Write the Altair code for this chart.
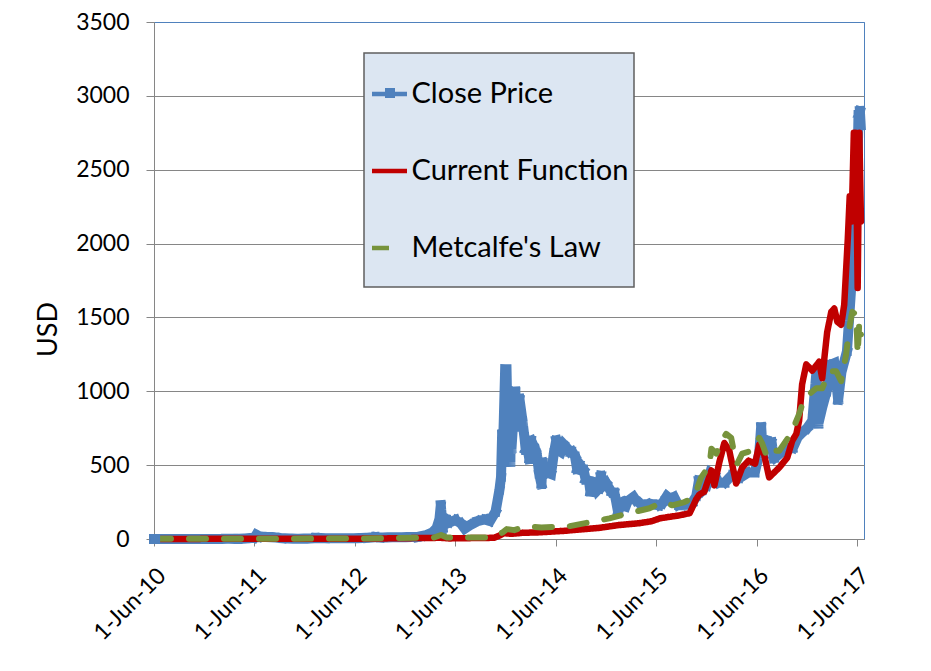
import altair as alt
import pandas as pd

# ---------------- data ----------------
series_names = ["Close Price", "Current Function", "Metcalfe's Law"]
series_colors = ["#4F81BD", "#C00000", "#77933C"]

close_dates = [
    "2010-06-01", "2010-10-01", "2011-01-01", "2011-02-15", "2011-04-01", "2011-05-01",
    "2011-05-20", "2011-06-01", "2011-06-08", "2011-06-20", "2011-07-15", "2011-08-15",
    "2011-09-10", "2011-10-20", "2011-11-18", "2011-12-20", "2012-01-10", "2012-02-15",
    "2012-04-01", "2012-06-01", "2012-07-15", "2012-08-15", "2012-09-01", "2012-10-15",
    "2012-12-01", "2013-01-15", "2013-02-15", "2013-03-10", "2013-03-25", "2013-04-04",
    "2013-04-09", "2013-04-16", "2013-04-25", "2013-05-15", "2013-06-01", "2013-06-20",
    "2013-07-05", "2013-07-25", "2013-08-20", "2013-09-15", "2013-10-05", "2013-10-25",
    "2013-11-08", "2013-11-14", "2013-11-18", "2013-11-20", "2013-11-24", "2013-11-29",
    "2013-12-04", "2013-12-07", "2013-12-10", "2013-12-15", "2013-12-18", "2013-12-19",
    "2013-12-22", "2013-12-27", "2014-01-01", "2014-01-05", "2014-01-10", "2014-01-20",
    "2014-01-31", "2014-02-07", "2014-02-12", "2014-02-18", "2014-02-25", "2014-03-03",
    "2014-03-10", "2014-03-18", "2014-03-25", "2014-04-02", "2014-04-10", "2014-04-14",
    "2014-04-23", "2014-05-01", "2014-05-15", "2014-05-25", "2014-06-03", "2014-06-12",
    "2014-06-20", "2014-06-30", "2014-07-10", "2014-07-22", "2014-07-31", "2014-08-10",
    "2014-08-18", "2014-08-25", "2014-09-05", "2014-09-10", "2014-09-18", "2014-09-30",
    "2014-10-05", "2014-10-10", "2014-10-20", "2014-10-30", "2014-11-04", "2014-11-12",
    "2014-11-20", "2014-12-01", "2014-12-10", "2014-12-20", "2014-12-31", "2015-01-05",
    "2015-01-14", "2015-01-25", "2015-02-01", "2015-02-10", "2015-02-17", "2015-03-11",
    "2015-03-20", "2015-04-01", "2015-04-14", "2015-05-01", "2015-05-20", "2015-06-10",
    "2015-06-25", "2015-07-10", "2015-07-20", "2015-08-05", "2015-08-20", "2015-09-05",
    "2015-09-20", "2015-10-10", "2015-10-25", "2015-11-04", "2015-11-12", "2015-12-01",
    "2015-12-15", "2016-01-01", "2016-01-15", "2016-02-05", "2016-03-01", "2016-04-01",
    "2016-05-01", "2016-05-25", "2016-06-10", "2016-06-17", "2016-06-23", "2016-07-05",
    "2016-07-25", "2016-08-02", "2016-08-25", "2016-09-20", "2016-10-10", "2016-10-28",
    "2016-11-10", "2016-12-01", "2016-12-20", "2017-01-04", "2017-01-11", "2017-01-25",
    "2017-02-10", "2017-02-25", "2017-03-10", "2017-03-18", "2017-03-24", "2017-04-05",
    "2017-04-25", "2017-05-05", "2017-05-12", "2017-05-20", "2017-05-25", "2017-05-27",
    "2017-06-01", "2017-06-06", "2017-06-11", "2017-06-14",
]
close_values = [
    0.1, 0.1, 0.3, 1, 0.8, 3.5,
    7, 9.6, 29, 17, 14, 11,
    5, 2.5, 2.2, 3.5, 7, 5,
    4.9, 5.3, 8, 13, 10, 11.8,
    12.6, 14, 26, 45, 75, 135,
    230, 70, 140, 115, 128, 108,
    70, 95, 120, 132, 122, 185,
    330, 420, 710, 560, 800, 1150,
    1150, 860, 1000, 870, 520, 700,
    610, 760, 760, 1000, 830, 950,
    800, 690, 600, 620, 540, 670,
    640, 610, 560, 440, 370, 520,
    440, 450, 440, 580, 670, 600,
    590, 640, 620, 590, 590, 560,
    470, 510, 480, 470, 400, 390,
    320, 390, 385, 330, 340, 430,
    360, 380, 350, 320, 315, 270,
    180, 250, 225, 220, 255, 285,
    260, 245, 220, 235, 235, 228,
    245, 290, 275, 285, 230, 230,
    232, 245, 290, 400, 320, 360,
    450, 430, 380, 380, 430, 415,
    450, 450, 580, 760, 580, 670,
    655, 545, 580, 610, 615, 690,
    715, 750, 800, 1130, 780, 890,
    1000, 1180, 1190, 1050, 940, 1130,
    1270, 1550, 1750, 2050, 2450, 2050,
    2400, 2870, 2900, 2800,
]

cf_dates = [
    "2010-06-01", "2012-06-01", "2013-04-10", "2013-05-10", "2013-10-20", "2013-11-10",
    "2013-11-25", "2013-12-20", "2014-02-01", "2014-04-01", "2014-07-01", "2014-09-01",
    "2014-11-05", "2015-01-15", "2015-04-01", "2015-05-15", "2015-06-15", "2015-07-20",
    "2015-08-25", "2015-10-01", "2015-10-15", "2015-10-25", "2015-11-05", "2015-11-23",
    "2015-12-19", "2015-12-30", "2016-01-17", "2016-02-04", "2016-02-22", "2016-03-18",
    "2016-04-09", "2016-05-02", "2016-05-26", "2016-06-10", "2016-06-28", "2016-07-16",
    "2016-08-22", "2016-09-20", "2016-10-08", "2016-10-23", "2016-11-02", "2016-11-13",
    "2016-11-28", "2016-12-20", "2017-01-14", "2017-01-25", "2017-02-12", "2017-02-27",
    "2017-03-10", "2017-03-21", "2017-04-04", "2017-04-15", "2017-04-28", "2017-05-05",
    "2017-05-12", "2017-05-20", "2017-05-27", "2017-06-03", "2017-06-09", "2017-06-15",
]
cf_values = [
    0.5, 2, 8, 4, 8, 25,
    40, 35, 42, 45, 55, 65,
    75, 94, 107, 120, 140, 150,
    160, 175, 230, 270, 300, 320,
    464, 363, 520, 650, 600, 376,
    484, 530, 510, 640, 570, 417,
    484, 551, 665, 712, 800, 1048,
    1182, 1140, 1200, 1088, 1400, 1538,
    1560, 1471, 1450, 1585, 2030, 2320,
    2150, 2750, 2750, 1700, 2750, 2150,
]

ml_dates = [
    "2010-06-01", "2012-06-01", "2013-03-15", "2013-04-10", "2013-05-01", "2013-10-15",
    "2013-11-20", "2013-12-05", "2014-01-01", "2014-02-15", "2014-04-10", "2014-07-21",
    "2014-10-02", "2014-12-13", "2015-02-24", "2015-05-08", "2015-06-24", "2015-07-30",
    "2015-09-12", "2015-10-18", "2015-11-05", "2015-11-12", "2015-12-12", "2015-12-19",
    "2016-01-06", "2016-01-24", "2016-02-11", "2016-02-29", "2016-03-11", "2016-03-22",
    "2016-04-09", "2016-05-15", "2016-06-10", "2016-06-21", "2016-07-09", "2016-07-27",
    "2016-08-22", "2016-09-16", "2016-10-08", "2016-11-02", "2016-11-21", "2016-12-09",
    "2017-01-03", "2017-01-25", "2017-02-19", "2017-03-17", "2017-04-04", "2017-04-22",
    "2017-05-03", "2017-05-14", "2017-05-29", "2017-06-03", "2017-06-09", "2017-06-15",
]
ml_values = [
    1, 3, 10, 27, 10, 10,
    45, 67, 60, 87, 78, 87,
    113, 140, 175, 208, 250, 228,
    250, 282, 383, 417, 497, 611,
    578, 665, 712, 685, 578, 510,
    578, 598, 685, 645, 551, 598,
    598, 665, 732, 845, 955, 980,
    1020, 1020, 1135, 1135, 1068, 1250,
    1424, 1538, 1518, 1250, 1471, 1384,
]

y_ticks = [0, 500, 1000, 1500, 2000, 2500, 3000, 3500]
x_tick_years = [2010, 2011, 2012, 2013, 2014, 2015, 2016, 2017]

# ---------------- build table ----------------
frames = []
for name, d, v in zip(series_names, [close_dates, cf_dates, ml_dates],
                      [close_values, cf_values, ml_values]):
    frames.append(pd.DataFrame({"date": d, "value": v, "series": name}))
df = pd.concat(frames, ignore_index=True)

FONT = "Lato"
GRAY = "#868686"
PLOT_TOP = 14  # padding above the plot area

x_enc = alt.X(
    "date:T",
    scale=alt.Scale(
        type="utc",
        domain=[alt.DateTime(year=2010, month=6, date=1, utc=True),
                alt.DateTime(year=2017, month=6, date=26, utc=True)],
    ),
    axis=alt.Axis(
        values=[alt.DateTime(year=yr, month=6, date=1, utc=True) for yr in x_tick_years],
        labelExpr="utcFormat(datum.value, '%-d-%b-%y')",
        labelAngle=315, labelAlign="right", labelBaseline="top",
        labelPadding=18, labelFont=FONT, labelFontSize=23, labelColor="black",
        tickSize=7, tickColor=GRAY, domainColor=GRAY, grid=False,
        labelOverlap=False,
    ),
    title=None,
)
y_enc = alt.Y(
    "value:Q",
    scale=alt.Scale(domain=[0, 3500], nice=False),
    axis=alt.Axis(
        values=y_ticks, grid=True, format="d",
        gridColor={"condition": {"test": "datum.value === 3500", "value": "#4F81BD"},
                   "value": GRAY},
        gridWidth=1, tickSize=8, tickColor=GRAY, domainColor=GRAY,
        labelFont=FONT, labelFontSize=23, labelColor="black", labelPadding=17,
        title="USD", titleFont=FONT, titleFontSize=27, titleFontWeight="normal",
        titleColor="black", titleAngle=270, titleX=-106, titleY=307,
        titleAlign="center", titleBaseline="middle",
    ),
)

legend = alt.Legend(
    orient="none", legendX=215.5, legendY=52, title=None,
    symbolType="stroke", symbolSize=1225, symbolStrokeWidth=4.5,
    labelFont=FONT, labelFontSize=29, labelColor="black", labelOffset=2,
    rowPadding=42, padding=0, labelLimit=400,
)
color_enc = alt.Color("series:N", scale=alt.Scale(domain=series_names, range=series_colors),
                      legend=legend)
dash_enc = alt.StrokeDash("series:N",
                          scale=alt.Scale(domain=series_names, range=[[1, 0], [1, 0], [17, 18]]),
                          legend=legend)

base = alt.Chart(df)

box = alt.Chart(pd.DataFrame({"a": [0]})).mark_rect(
    fill="#DCE6F2", stroke="#5F5F5F", strokeWidth=1.5
).encode(x=alt.value(210), x2=alt.value(480), y=alt.value(31), y2=alt.value(265))

close_line = base.transform_filter(alt.datum.series == series_names[0]).mark_line(
    strokeWidth=10, strokeCap="square", strokeJoin="miter", strokeMiterLimit=2
).encode(x=x_enc, y=y_enc, color=color_enc, strokeDash=dash_enc)

cf_line = base.transform_filter(alt.datum.series == series_names[1]).mark_line(
    strokeWidth=6.5, strokeCap="round", strokeJoin="round"
).encode(x=x_enc, y=y_enc, color=color_enc, strokeDash=dash_enc)

ml_line = base.transform_filter(alt.datum.series == series_names[2]).mark_line(
    strokeWidth=6, strokeCap="round", strokeJoin="round"
).encode(x=x_enc, y=y_enc, color=color_enc, strokeDash=dash_enc)

marker = alt.Chart(pd.DataFrame({"date": ["2010-06-05"], "value": [0], "m": ["Close Price marker"]})).mark_point(
    filled=True, color="#4F81BD", size=100, opacity=1
).encode(
    x=x_enc, y=y_enc,
    shape=alt.Shape("m:N", scale=alt.Scale(range=["square"]),
                    legend=alt.Legend(orient="none", legendX=231, legendY=66, title=None,
                                      labelExpr="''", labelFontSize=1, labelOffset=0,
                                      padding=0, symbolSize=100, symbolStrokeWidth=0,
                                      symbolFillColor="#4F81BD")),
)

chart = alt.layer(box, close_line, cf_line, ml_line, marker).resolve_legend(
    shape="independent"
).properties(
    width=710, height=517,
    autosize=alt.AutoSizeParams(type="none"),
    padding={"left": 146, "top": PLOT_TOP, "right": 55, "bottom": 112},
    background="white",
).configure_view(stroke="#4F81BD", strokeWidth=1)

chart.save("out.html", embed_options={"renderer": "svg", "actions": False})
